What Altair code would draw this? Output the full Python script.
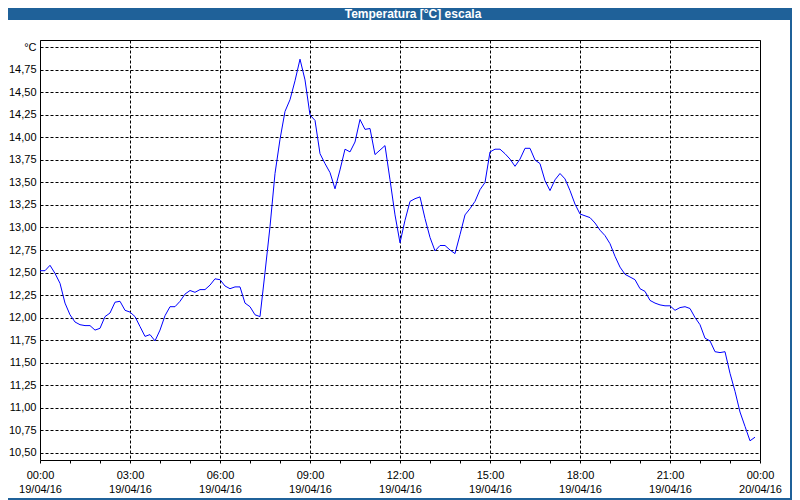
import altair as alt
import pandas as pd

# Temperature readings every 10 minutes, 19/04/16 00:00 -> 23:50
temps = [
    12.52, 12.52, 12.58, 12.49, 12.38, 12.16, 12.03, 11.95, 11.92, 11.91,
    11.91, 11.86, 11.88, 12.01, 12.05, 12.17, 12.18, 12.08, 12.06, 12.01,
    11.90, 11.79, 11.81, 11.74, 11.86, 12.02, 12.12, 12.12, 12.18, 12.26,
    12.30, 12.28, 12.31, 12.31, 12.36, 12.43, 12.42, 12.35, 12.32, 12.34,
    12.34, 12.16, 12.12, 12.03, 12.01, 12.50, 13.01, 13.60, 13.98, 14.29,
    14.42, 14.63, 14.87, 14.64, 14.25, 14.19, 13.82, 13.71, 13.61, 13.43,
    13.64, 13.87, 13.84, 13.95, 14.20, 14.09, 14.10, 13.81, 13.86, 13.91,
    13.53, 13.14, 12.83, 13.08, 13.29, 13.32, 13.34, 13.10, 12.89, 12.74,
    12.80, 12.80, 12.75, 12.71, 12.92, 13.14, 13.21, 13.29, 13.42, 13.50,
    13.84, 13.87, 13.87, 13.82, 13.76, 13.68, 13.76, 13.88, 13.88, 13.75,
    13.71, 13.52, 13.41, 13.53, 13.60, 13.54, 13.41, 13.26, 13.15, 13.13,
    13.11, 13.05, 12.97, 12.91, 12.82, 12.68, 12.56, 12.48, 12.45, 12.42,
    12.32, 12.29, 12.19, 12.16, 12.14, 12.13, 12.13, 12.08, 12.11, 12.12,
    12.10, 12.00, 11.92, 11.77, 11.74, 11.62, 11.61, 11.62, 11.38, 11.18,
    10.95, 10.79, 10.63, 10.67,
]
step_minutes = 10
hours = [i * step_minutes / 60 for i in range(len(temps))]

y_ticks = [10.5, 10.75, 11.0, 11.25, 11.5, 11.75, 12.0, 12.25, 12.5, 12.75,
           13.0, 13.25, 13.5, 13.75, 14.0, 14.25, 14.5, 14.75, 15.0]
x_ticks = list(range(25))
date_day1 = "19/04/16"
date_day2 = "20/04/16"
title_text = "Temperatura [°C] escala"
unit_label = "°C"

df = pd.DataFrame({"h": hours, "t": temps})

BLUE = "#1F6199"
FONT = "Liberation Sans"

x_label_expr = (
    "datum.value % 3 === 0 ? [format(datum.value % 24, '02d') + ':00', "
    f"datum.value < 24 ? '{date_day1}' : '{date_day2}'] : ''"
)
y_label_expr = (
    f"datum.value > 14.99 ? '{unit_label}' : replace(format(datum.value, '.2f'), '.', ',')"
)

line = alt.Chart(df).mark_line(color="#0000FF", strokeWidth=1).encode(
    x=alt.X(
        "h:Q",
        scale=alt.Scale(domain=[0, 24], nice=False, zero=False),
        axis=alt.Axis(
            values=x_ticks, title=None, domain=False,
            grid=True, gridColor="black", gridDash=[3, 2], gridWidth=1,
            gridOpacity={"condition": {"test": "datum.value % 3 === 0", "value": 1}, "value": 0},
            ticks=True, tickSize=3, tickColor="black",
            labelExpr=x_label_expr, labelOverlap=False, labelFlush=False,
            labelPadding=6, labelFont=FONT, labelFontSize=11, labelColor="black",
            labelLineHeight=14,
        ),
    ),
    y=alt.Y(
        "t:Q",
        scale=alt.Scale(domain=[10.4167, 15.0833], nice=False, zero=False),
        axis=alt.Axis(
            values=y_ticks, title=None, domain=False,
            grid=True, gridColor="black", gridDash=[3, 2], gridWidth=1,
            ticks=False, labelPadding=4,
            labelExpr=y_label_expr, labelOverlap=False, labelFlush=False,
            labelFont=FONT, labelFontSize=11, labelColor="black",
        ),
    ),
)

one = alt.Data(values=[{"k": 1}])

title_bar = alt.Chart(one).mark_rect(color=BLUE).encode(
    x=alt.value(-32), x2=alt.value(752), y=alt.value(-32), y2=alt.value(-20)
)
title_lbl = alt.Chart(one).mark_text(
    text=title_text, font=FONT, fontSize=12, fontWeight="bold", color="white",
    align="center", baseline="middle",
).encode(x=alt.value(373), y=alt.value(-26))
right_border = alt.Chart(one).mark_rect(color=BLUE).encode(
    x=alt.value(750), x2=alt.value(752), y=alt.value(-32), y2=alt.value(460)
)
bottom_border = alt.Chart(one).mark_rect(color=BLUE).encode(
    x=alt.value(-32), x2=alt.value(752), y=alt.value(458), y2=alt.value(460)
)

chart = alt.layer(line, title_bar, title_lbl, right_border, bottom_border).properties(
    width=720, height=420,
    autosize=alt.AutoSizeParams(type="none"),
    padding={"left": 32, "top": 32, "right": 32, "bottom": 40},
    background="white",
).configure_view(stroke="black", strokeWidth=1)

chart.save("out.html", embed_options={"renderer": "svg", "actions": False})
